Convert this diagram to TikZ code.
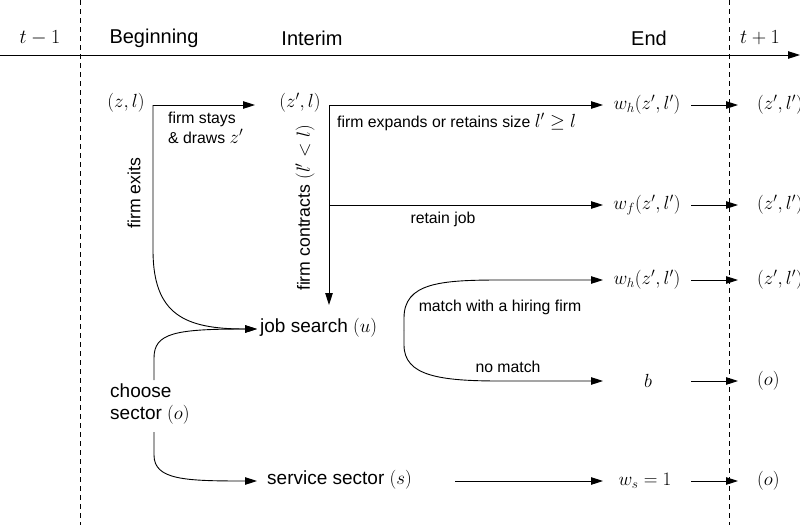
\documentclass[tikz,border=0pt]{standalone}
\usepackage{fix-cm}
\usepackage{fontspec}
\setmainfont{Liberation Sans}
\usetikzlibrary{arrows.meta}
\newcommand{\bigmath}[1]{{\fontsize{19}{22}\selectfont$#1$}}
\tikzset{
  big/.style={font=\fontsize{19}{22}\selectfont, inner sep=1pt},
  head/.style={font=\fontsize{20}{24}\selectfont, inner sep=1pt},
  small/.style={font=\fontsize{15.8}{19.5}\selectfont, inner sep=1pt},
  side/.style={font=\fontsize{17.7}{21}\selectfont, inner sep=1pt, rotate=90},
  arr/.style={-{Triangle[length=12pt,width=7.5pt]}, line width=0.9pt},
  period/.style={line width=0.9pt, dash pattern=on 5pt off 4pt}
}
\begin{document}
\begin{tikzpicture}[x=1pt,y=-1pt]
\useasboundingbox (0,0) rectangle (800,525);

% time axis and period boundaries
\coordinate (ax0) at (0,55);
\coordinate (ax1) at (800,55);
\draw[arr] (ax0) -- (ax1);
\coordinate (d0a) at (80,0);   \coordinate (d0b) at (80,525);
\coordinate (d1a) at (729,0);  \coordinate (d1b) at (729,525);
\draw[period] (d0a) -- (d0b);
\draw[period] (d1a) -- (d1b);

% headers
\node[head] (tm) at (40,38) {$t-1$};
\node[head] (beg) at (154,38) {Beginning};
\node[head] (int) at (312,38) {Interim};
\node[head] (end) at (649,38) {End};
\node[head] (tp) at (760,38) {$t+1$};

% states
\node[big] (zl)  at (126,103) {$(z,l)$};
\node[big] (zpl) at (300,103) {$(z',l)$};
\node[big] (wh1) at (647,105) {$w_h(z',l')$};
\node[big] (wf)  at (647,205) {$w_f(z',l')$};
\node[big] (wh2) at (647,280) {$w_h(z',l')$};
\node[big] (bb)  at (648,381) {$b$};
\node[big] (ws)  at (645,481) {$w_s = 1$};
\node[big, anchor=west] (n1) at (756,105) {$(z',l')$};
\node[big, anchor=west] (n2) at (756,205) {$(z',l')$};
\node[big, anchor=west] (n3) at (756,280) {$(z',l')$};
\node[big, anchor=west] (o1) at (756,381) {$(o)$};
\node[big, anchor=west] (o2) at (756,481) {$(o)$};
\node[big, anchor=west] (js) at (259,328) {job search $(u)$};
\node[big, anchor=west] (ss) at (266,480) {service sector $(s)$};
\node[big, align=left, anchor=west] (cs) at (109,404) {choose\\sector $(o)$};

% edge labels
\node[side] (lexit) at (134,193) {firm exits};
\node[small, align=left, anchor=north west] (lstay) at (167,111) {firm stays\\\& draws \bigmath{z'}};
\node[side] (lcon) at (305,208) {firm contracts \bigmath{(l'<l)}};
\node[small, anchor=west] (lexp) at (336,122) {firm expands or retains size \bigmath{l'\geq l}};
\node[small] (lret) at (443,219) {retain job};
\node[small] (lmatch) at (500,307) {match with a hiring firm};
\node[small] (lno) at (508,367) {no match};

% bend points
\coordinate (s0) at (153,105);
\coordinate (t0) at (255,105);
\coordinate (s1) at (329,105);
\coordinate (t1) at (603,105);
\coordinate (b1) at (329,205);
\coordinate (t2) at (603,205);
\coordinate (t3) at (329,305);
\coordinate (jin) at (257,329);
\coordinate (e0) at (153,250);
\coordinate (c0) at (154,380);
\coordinate (c1) at (154,432);
\coordinate (tss) at (257,481);
\coordinate (m0) at (404,330);
\coordinate (tm1) at (603,280);
\coordinate (tm2) at (603,381);
\coordinate (sa) at (455,481);
\coordinate (sb) at (603,481);

% firm stays / exits
\draw[arr] (s0) -- (t0);
\draw[arr] (s0) -- (e0) .. controls (153,315) and (185,329) .. (jin);
% firm decisions
\draw[arr] (s1) -- (t1);
\draw[arr] (s1) -- (t3);
\draw[arr] (b1) -- (t2);
% sector choice
\draw[arr] (c0) -- (154,358) .. controls (154,333) and (175,329) .. (jin);
\draw[arr] (c1) -- (154,455) .. controls (154,480) and (185,481) .. (tss);
% job search outcomes
\draw[arr] (m0) -- (404,318) .. controls (404,283) and (440,280) .. (500,280) -- (tm1);
\draw[arr] (m0) -- (404,345) .. controls (404,376) and (440,381) .. (500,381) -- (tm2);
\draw[arr] (sa) -- (sb);

% into next period
\foreach \y/\n in {105/a,205/b,280/c,381/d,481/e}{
  \coordinate (p\n) at (691,\y);
  \coordinate (q\n) at (738,\y);
  \draw[arr] (p\n) -- (q\n);
}
\end{tikzpicture}
\end{document}
